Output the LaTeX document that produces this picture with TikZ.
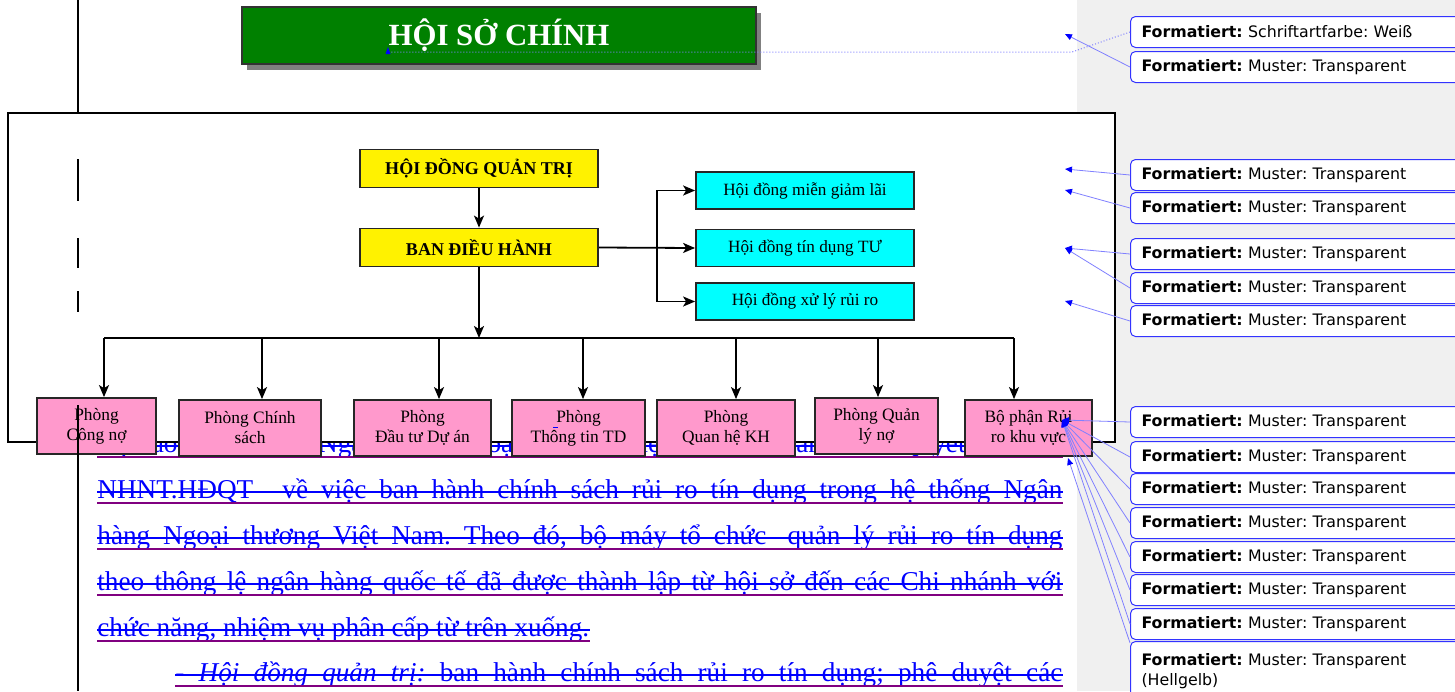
\documentclass[tikz,border=0pt]{standalone}
\usepackage{fontspec}
\setmainfont{Liberation Serif}
\newfontfamily\tahoma{DejaVu Sans}
\usetikzlibrary{arrows.meta, positioning, shadows}
\definecolor{pinkbox}{HTML}{FF99CC}
\definecolor{aquabox}{HTML}{00FFFF}
\definecolor{darkgreen}{HTML}{008000}
\definecolor{revpurple}{HTML}{800080}
\definecolor{sidegray}{HTML}{F0F0F0}
\definecolor{cmtblue}{HTML}{3333FF}
\definecolor{cmtline}{HTML}{8080FF}
\frenchspacing

\begin{document}
\begin{tikzpicture}[
  x=0.5pt, y=-0.5pt,
  box/.style={rectangle, draw=black!85, line width=0.9pt, align=center, inner sep=1pt},
  board/.style={box, fill=yellow, font=\fontsize{9}{11}\selectfont\bfseries,
                minimum width=119pt, minimum height=19pt},
  council/.style={box, fill=aquabox, font=\fontsize{8.6}{10}\selectfont,
                  minimum width=109pt, minimum height=18.5pt},
  dept/.style={box, fill=pinkbox, font=\fontsize{8.7}{10}\selectfont, minimum height=28pt},
  arrow/.style={-{Stealth[length=6pt,width=5pt,inset=1.5pt]}, line width=0.9pt},
  bodyline/.style={anchor=base west, inner sep=0pt, text=blue, font=\fontsize{13.6}{16}\selectfont},
  strike/.style={draw=blue, line width=0.7pt},
  uline/.style={draw=revpurple, line width=0.8pt},
  cbox/.style={rectangle, rounded corners=2.5pt, draw=cmtblue, line width=0.5pt, fill=white,
               anchor=north west, text width=160pt, inner xsep=5.5pt, minimum height=15.5pt,
               align=left, font=\tahoma\fontsize{7.9}{10}\selectfont},
  cline/.style={draw=cmtline, line width=0.4pt, -{Triangle[length=3.5pt,width=3pt,color=blue]}},
]
  \clip (0,0) rectangle (1455,691);
  \fill[white] (0,0) rectangle (1455,691);
  \fill[sidegray] (1077,0) rectangle (1455,691);

  % text of the page behind the chart
  \node[bodyline] (l0) at (97,452) {\hbox to 482.5pt{Hội đồng quản trị Ngân hàng Ngoại thương Việt Nam đã ban hành Quyết định số}};
  \node[bodyline] (l1) at (97,498) {\hbox to 482.5pt{NHNT.HĐQT\hspace{0.6em} về việc ban hành chính sách rủi ro tín dụng trong hệ thống Ngân}};
  \node[bodyline] (l2) at (97,544) {\hbox to 482.5pt{hàng Ngoại thương Việt Nam. Theo đó, bộ máy tổ chức\hspace{0.3em} quản lý rủi ro tín dụng}};
  \node[bodyline] (l3) at (97,590) {\hbox to 482.5pt{theo thông lệ ngân hàng quốc tế đã được thành lập từ hội sở đến các Chi nhánh với}};
  \node[bodyline] (l4) at (97,636) {chức năng, nhiệm vụ phân cấp từ trên xuống.};
  \node[bodyline] (l5) at (175,681) {\hbox to 443.5pt{\textit{- Hội đồng quản trị:} ban hành chính sách rủi ro tín dụng; phê duyệt các}};
  \foreach \l in {l0,l1,l2,l3,l4,l5} {
    \draw[strike] ([yshift=3pt]\l.base west) -- ([yshift=3pt]\l.base east);
    \draw[uline] ([yshift=-2.5pt]\l.base west) -- ([yshift=-2.5pt]\l.base east);
  }

  % frame round the chart
  \draw[line width=0.9pt, fill=white] (8,113) rectangle (1115,442);

  \node[box, fill=darkgreen, draw=black!80, line width=1pt, minimum width=257pt, minimum height=28.5pt,
        drop shadow={shadow xshift=2.5pt, shadow yshift=-3pt, fill=black!50, opacity=1},
        font=\fontsize{15.4}{18}\selectfont\bfseries, text=white] (hoiso) at (499,35.5) {HỘI SỞ CHÍNH};

  \node[board] (hdqt) at (479,168.5) {HỘI ĐỒNG QUẢN TRỊ};
  \node[board] (bdh) at (479,247.5) {BAN ĐIỀU HÀNH};
  \node[council] (hd1) at (805,190.5) {Hội đồng miễn giảm lãi};
  \node[council] (hd2) at (805,248) {Hội đồng tín dụng TƯ};
  \node[council] (hd3) at (805,301.5) {Hội đồng xử lý rủi ro};
  \draw[arrow] (hdqt) -- (bdh);
  \draw[arrow] (bdh.east) -- (hd2.west);
  \coordinate (sp) at (657,248);
  \draw[arrow] (sp) |- (hd1.west);
  \draw[arrow] (sp) |- (hd3.west);

  % departments
  \foreach \n/\x in {1/104,2/262,3/439,4/583,5/736,6/878,7/1014}
    \coordinate (b\n) at (\x,338);
  \draw[line width=0.9pt] (b1) -- (b7);
  \draw[arrow] (bdh.south) -- (bdh.south |- b1);
  \node[dept, minimum width=59.5pt] (p1) at (96.5,426) {Phòng\\Công nợ};
  \node[dept, minimum width=71pt] (p2) at (250,428) {Phòng Chính\\sách};
  \node[dept, minimum width=68.5pt] (p3) at (422.5,428) {Phòng\\Đầu tư Dự án};
  \node[dept, minimum width=66.5pt] (p4) at (578.5,428) {Phòng\\Thông tin TD};
  \node[dept, minimum width=69pt] (p5) at (726,428) {Phòng\\Quan hệ KH};
  \node[dept, minimum width=61.5pt] (p6) at (876.5,426) {Phòng Quản\\lý nợ};
  \node[dept, minimum width=63.5pt] (p7) at (1028.5,428) {Bộ phận Rủi\\ro khu vực};
  \foreach \n in {1,...,7}
    \draw[arrow] (b\n) -- (b\n |- p\n.north);
  \draw[blue, line width=0.5pt] (553,427) -- (558,427);

  % margin line
  \foreach \ya/\yb in {0/113,159/201,238/268,291/312,405/691}
    \draw[line width=1pt] (78,\ya) -- (78,\yb);

  % comments
  \node[cbox] (c1) at (1130,16) {\textbf{Formatiert:} Schriftartfarbe: Weiß};
  \node[cbox] (c2) at (1130,51) {\textbf{Formatiert:} Muster: Transparent};
  \foreach \i/\y in {3/159,4/192,5/238,6/272,7/305,8/406,9/441,10/473,11/507,12/541,13/574,14/608}
    \node[cbox] (c\i) at (1130,\y) {\textbf{Formatiert:} Muster: Transparent};
  \node[cbox, minimum height=30pt] (c15) at (1130,641) {\textbf{Formatiert:} Muster: Transparent\\(Hellgelb)};

  \coordinate (a1) at (388,52);
  \coordinate (k1) at (1072,52);
  \coordinate (a2) at (1065,34);
  \coordinate (a3) at (1065,169);
  \coordinate (a4) at (1065,190);
  \coordinate (a5) at (1065,248);
  \coordinate (a7) at (1065,301);
  \coordinate (a8) at (1062,420);
  \coordinate (a15) at (1068,458);
  \draw[cmtline, line width=0.5pt, densely dotted] (c1.west) -- (k1) -- (a1);
  \fill[blue] (a1) ++(-2.5,2) -- ++(5,0) -- ++(-2.5,-7) -- cycle;
  \foreach \i/\a in {2/a2,3/a3,4/a4,5/a5,6/a5,7/a7,8/a8,9/a8,10/a8,11/a8,12/a8,13/a8,14/a8}
    \draw[cline] (c\i.west) -- (\a);
  \draw[cline] ([yshift=-1pt]c15.north west) -- (a15);
\end{tikzpicture}
\end{document}
